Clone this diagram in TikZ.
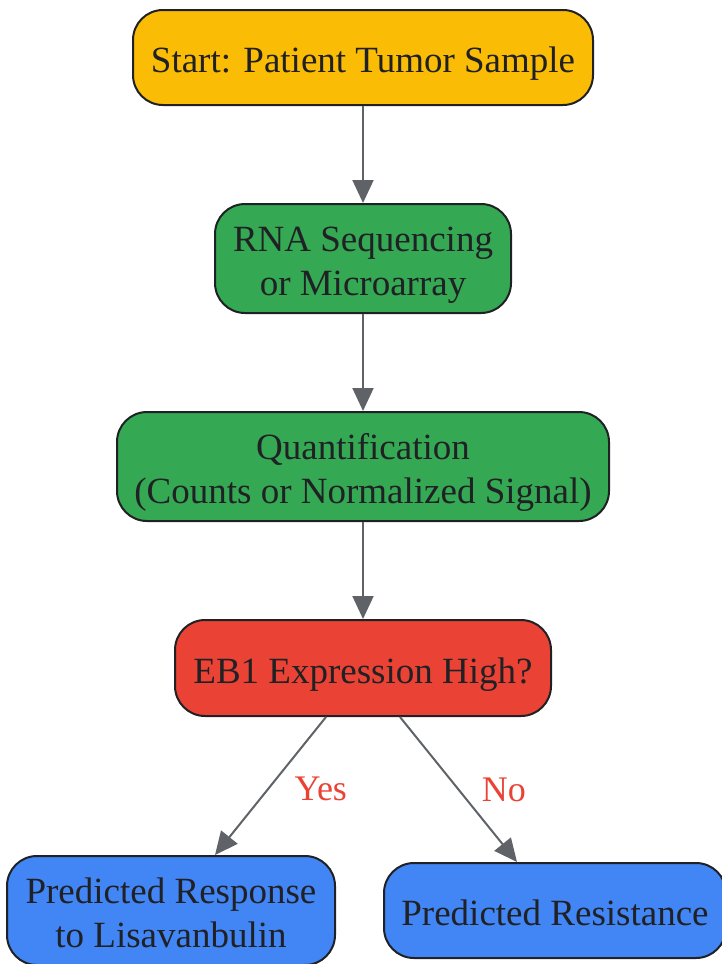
\documentclass[tikz,border=0pt]{standalone}
\usepackage{fontspec}
\setmainfont{Liberation Serif}
\usetikzlibrary{arrows.meta}
\definecolor{gyellow}{HTML}{FBBC05}
\definecolor{ggreen}{HTML}{34A853}
\definecolor{gred}{HTML}{EA4335}
\definecolor{gblue}{HTML}{4285F4}
\definecolor{ink}{HTML}{202124}
\definecolor{wire}{HTML}{5F6368}
\newcommand{\hi}{\rule{0pt}{40pt}}
\newcommand{\lo}{\rule[-10pt]{0pt}{0pt}}
\begin{document}
\begin{tikzpicture}[x=1pt, y=-1pt,
	box/.style={draw=ink, line width=2pt, rounded corners=30pt,
		text=ink, align=center, inner sep=0pt,
		font=\fontsize{37}{44}\selectfont},
	arr/.style={draw=wire, line width=2pt,
		-{Triangle[length=23pt, width=21pt]}},
	lab/.style={text=gred, font=\fontsize{36}{42}\selectfont}]
\useasboundingbox (0,0) rectangle (721,964);
\node[box, fill=gyellow, minimum width=460pt, minimum height=95pt]
	(start) at (363,57.5) {\hi Start: Patient Tumor Sample\lo};
\node[box, fill=ggreen, minimum width=296pt, minimum height=109pt]
	(seq) at (363,258.5) {\hi RNA Sequencing\\or Microarray\lo};
\node[box, fill=ggreen, minimum width=492pt, minimum height=109pt]
	(quant) at (363,466.5) {\hi Quantification\\(Counts or Normalized Signal)\lo};
\node[box, fill=gred, minimum width=376pt, minimum height=96pt]
	(eb1) at (363,668) {\hi EB1 Expression High?\lo};
\node[box, fill=gblue, minimum width=328pt, minimum height=109pt]
	(resp) at (171,910.5) {\hi Predicted Response\\to Lisavanbulin\lo};
\node[box, fill=gblue, minimum width=342pt, minimum height=95pt]
	(resist) at (555,910.5) {\hi Predicted Resistance\lo};
\foreach \a/\b in {start/seq,seq/quant,quant/eb1}
	\draw[arr] (\a) -- (\b);
\draw[arr] ([xshift=-37pt]eb1.south) -- ([xshift=44pt]resp.north)
	node[lab, pos=0.52, right=22pt] (yes) {Yes};
\draw[arr] ([xshift=37pt]eb1.south) -- ([xshift=-38pt]resist.north)
	node[lab, pos=0.5, right=19pt] (no) {No};
\end{tikzpicture}
\end{document}
